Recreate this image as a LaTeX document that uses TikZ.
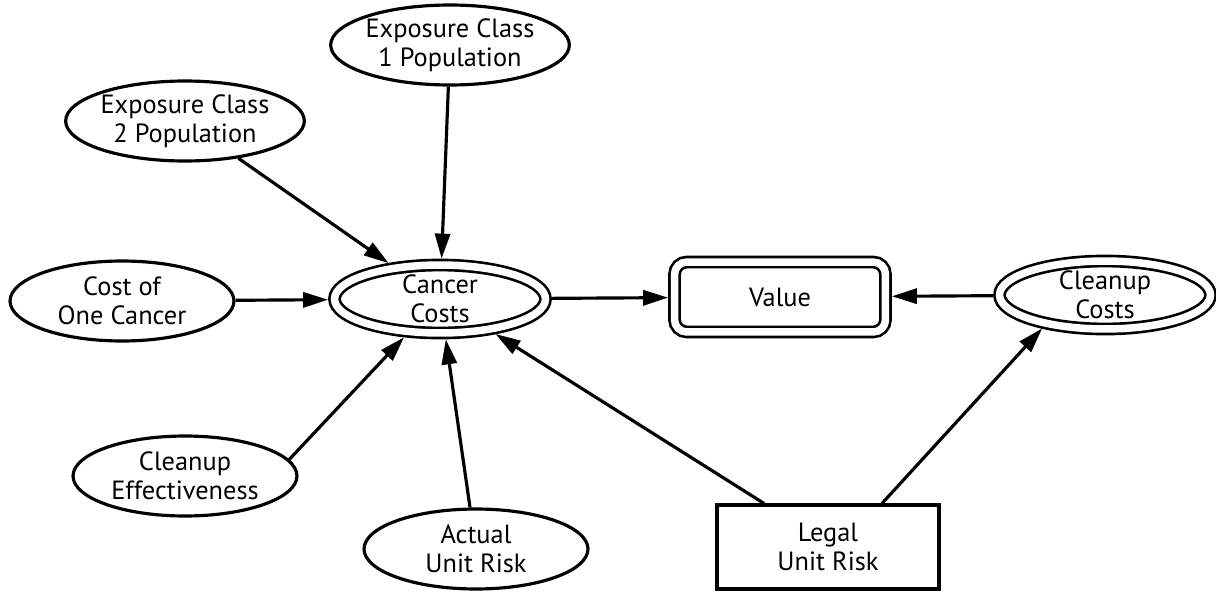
\documentclass[tikz,border=0pt]{standalone}
\usepackage{fontspec}
\setmainfont{PT Sans}
\usetikzlibrary{arrows.meta,shapes.geometric}

\begin{document}
\begin{tikzpicture}[
    x=0.02cm, y=-0.02cm,
    label text/.style={align=center, inner sep=0pt,
      font=\fontsize{15}{16.5}\selectfont},
    chance/.style={label text, draw=black, ellipse, line width=1.8pt,
      minimum width=4.48cm, minimum height=1.6cm},
    derived/.style={label text, draw=black, ellipse, double,
      double distance=0.15cm, line width=1.5pt, outer sep=0.075cm+1.5pt,
      minimum width=4.22cm, minimum height=1.34cm},
    valuebox/.style={label text, draw=black, rounded corners=7pt, double,
      double distance=0.15cm, line width=1.5pt, outer sep=0.075cm+1.5pt,
      minimum width=4.22cm, minimum height=1.4cm},
    decisionbox/.style={label text, draw=black, line width=1.8pt,
      minimum width=4.44cm, minimum height=1.68cm},
    arrow/.style={-{Triangle[length=0.5cm, width=0.3cm]}, line width=1.8pt}
  ]
    \useasboundingbox (0,0) rectangle (1216,595);
    \node[chance] (exp1) at (450,45) {Exposure Class\\1 Population};
    \node[chance] (exp2) at (185,121) {Exposure Class\\2 Population};
    \node[chance] (onecancer) at (122,301) {Cost of\\One Cancer};
    \node[derived] (cancer) at (440,299) {Cancer\\Costs};
    \node[valuebox] (value) at (780,297) {Value};
    \node[derived] (cleanup) at (1105,295) {Cleanup\\Costs};
    \node[chance] (effect) at (185,476) {Cleanup\\Effectiveness};
    \node[chance] (actual) at (476,549) {Actual\\Unit Risk};
    \node[decisionbox] (legal) at (828,547) {Legal\\Unit Risk};
    \draw[arrow] (exp1) -- (cancer);
    \draw[arrow] (exp2) -- (cancer);
    \draw[arrow] (onecancer) -- (cancer);
    \draw[arrow] (effect.9) -- (cancer);
    \draw[arrow] (actual) -- (cancer);
    \draw[arrow] ([xshift=-1.28cm]legal.north) -- (cancer);
    \draw[arrow] ([xshift=1.08cm]legal.north) -- (cleanup.208);
    \draw[arrow] (cancer) -- (value);
    \draw[arrow] (cleanup) -- (value);
  \end{tikzpicture}
\end{document}
